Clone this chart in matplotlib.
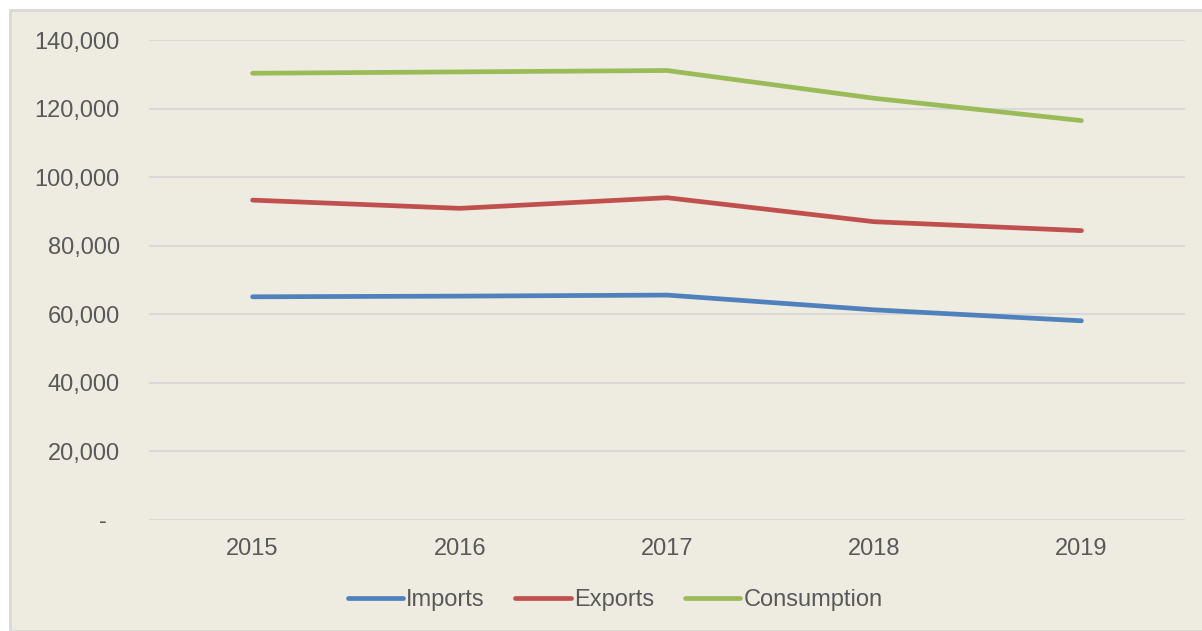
import matplotlib
matplotlib.use("Agg")
import matplotlib.pyplot as plt
from matplotlib.patches import Rectangle
from matplotlib.ticker import FuncFormatter

years = ["2015", "2016", "2017", "2018", "2019"]
imports = [65100, 65300, 65600, 61300, 58100]
exports = [93300, 90900, 94000, 87000, 84400]
consumption = [130300, 130700, 131100, 123000, 116500]
series_names = ["Imports", "Exports", "Consumption"]
colors = ["#4F81BD", "#C0504D", "#9BBB59"]
yticks = [0, 20000, 40000, 60000, 80000, 100000, 120000, 140000]

plt.rcParams['font.family'] = ['Liberation Sans', 'DejaVu Sans']
text_color = "#595959"
bg = "#EEEBE0"

W, H = 1202, 631
fig = plt.figure(figsize=(W / 100, H / 100), dpi=100)
fig.patch.set_facecolor("white")
fig.patches.append(Rectangle((10 / W, 0), 1 - 10 / W + 0.01, 1 - 10 / H,
                             transform=fig.transFigure, facecolor=bg,
                             edgecolor="#D9D9D9", linewidth=2, zorder=-10))

ax = fig.add_axes([149 / W, 1 - 520 / H, (1185 - 149) / W, 480 / H])
ax.set_facecolor("none")

x = list(range(len(years)))
for name, vals, c in zip(series_names, [imports, exports, consumption], colors):
    ax.plot(x, vals, color=c, lw=3.4, solid_capstyle="round",
            solid_joinstyle="round", label=name, zorder=3)

ax.set_xlim(-0.5, len(years) - 0.5)
ax.set_ylim(0, 140000)
ax.set_yticks(yticks)
ax.set_xticks(x)
ax.set_xticklabels(years)
ax.yaxis.set_major_formatter(FuncFormatter(lambda v, p: "-  " if v == 0 else f"{int(v):,}"))
ax.grid(axis="y", color="#D9D9D9", lw=1.5, zorder=0)
ax.set_axisbelow(True)
for s in ax.spines.values():
    s.set_visible(False)
ax.tick_params(axis="both", length=0, labelsize=17, colors=text_color)
ax.tick_params(axis="y", pad=21)
ax.tick_params(axis="x", pad=13)

leg = fig.legend(loc="center", bbox_to_anchor=(615 / W, 1 - 600 / H), ncol=3,
                 frameon=False, fontsize=17, handlelength=2.35,
                 handletextpad=0.13, columnspacing=1.3)
for t in leg.get_texts():
    t.set_color(text_color)

fig.savefig("out.png", dpi=100)
